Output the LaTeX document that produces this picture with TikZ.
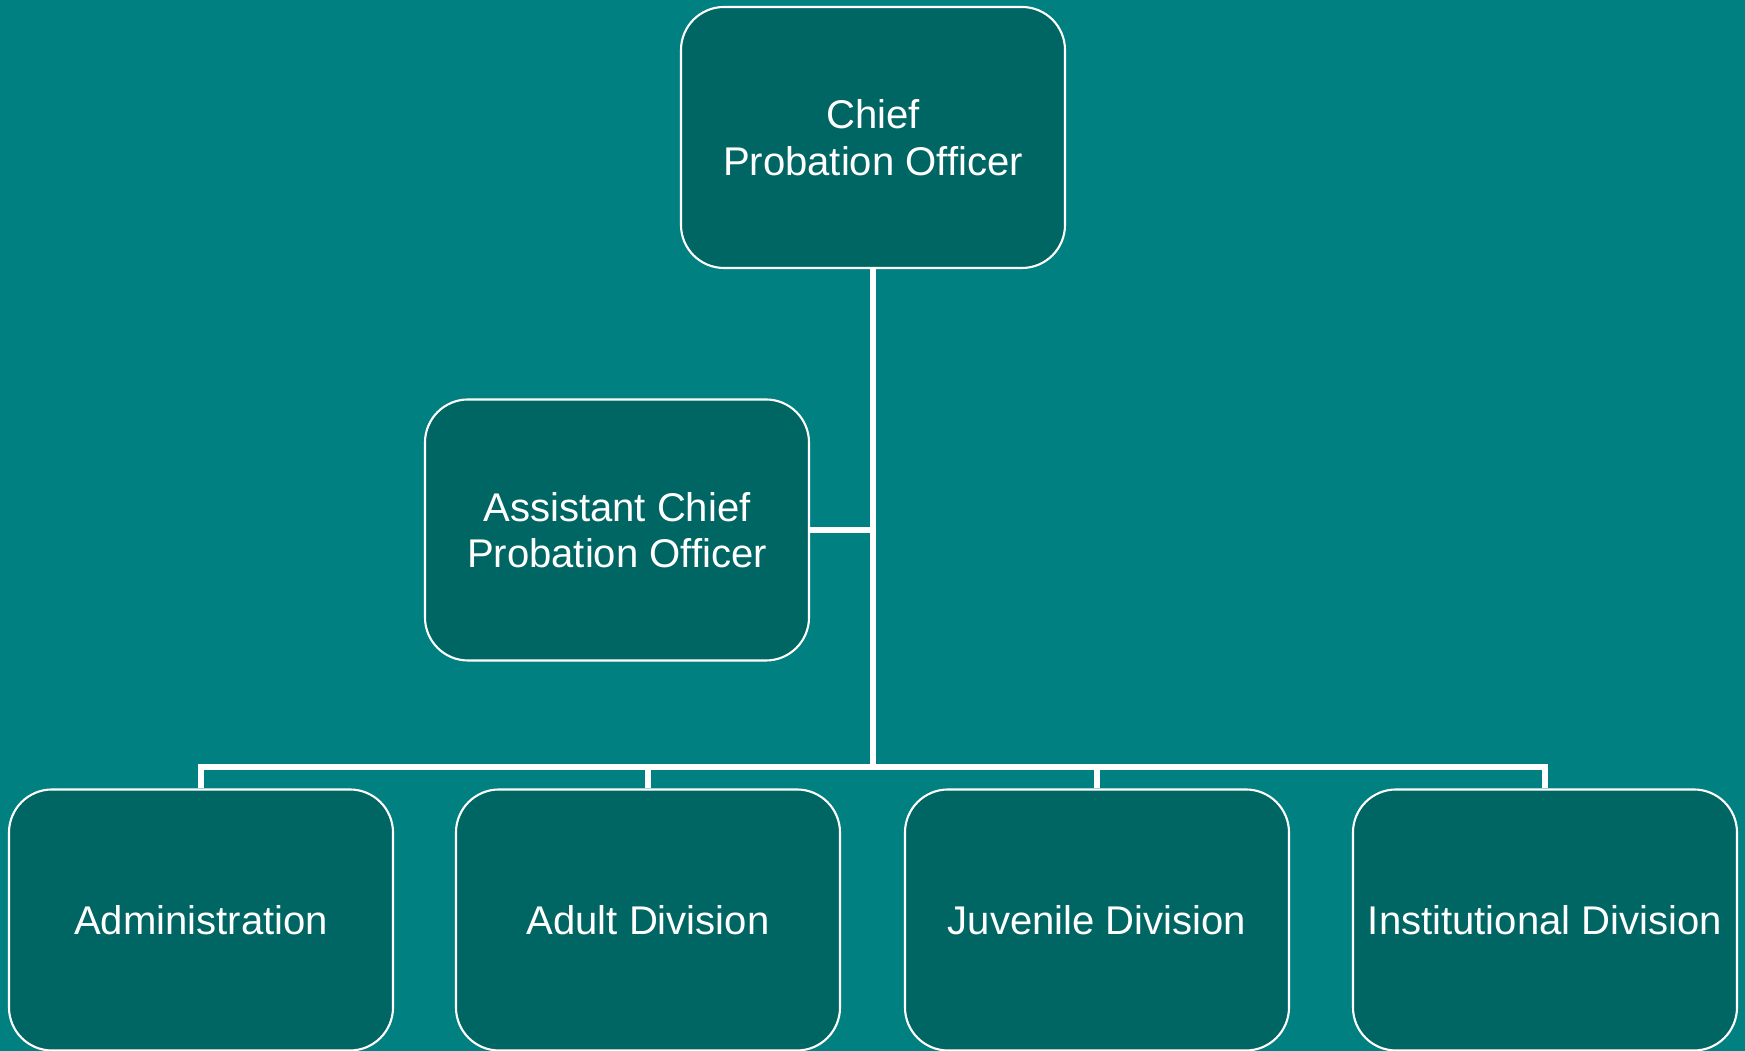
\documentclass[tikz,border=0pt]{standalone}
\usepackage{fontspec}
\setmainfont{Liberation Sans}
\usetikzlibrary{positioning, calc}
\definecolor{SlideTeal}{RGB}{0, 128, 128}
\definecolor{BoxTeal}{RGB}{0, 102, 100}

\tikzset{
    unitbox/.style={draw=white, line width=0.6pt, fill=BoxTeal, rounded corners=0.43cm,
        minimum width=3.84cm, minimum height=2.61cm, align=center, text=white,
        font=\fontsize{11.4}{13.2}\selectfont, inner sep=0pt},
    orgline/.style={draw=white, line width=1.7pt}
}

\begin{document}
\begin{tikzpicture}

        % --- Slide background ---
        \fill[SlideTeal] (0,0) rectangle (17.45,10.51);
        \useasboundingbox (0,0) rectangle (17.45,10.51);

        % --- Boxes ---
        \node[unitbox] (chief) at (8.73,9.135) {Chief\\Probation Officer};
        \node[unitbox] (asst) at (6.17,5.21) {Assistant Chief\\Probation Officer};

        \node[unitbox] (admin) at (2.01,1.31) {Administration};
        \node[unitbox] (adult) at (6.48,1.31) {Adult Division};
        \node[unitbox] (juv) at (10.97,1.31) {Juvenile Division};
        \node[unitbox] (inst) at (15.45,1.31) {Institutional Division};

        \coordinate (bus) at (0,2.84);

        % --- Connectors ---
        \draw[orgline] (chief.south) -- (chief.south |- bus);
        \draw[orgline] (asst.east) -- (asst.east -| chief.south);
        \draw[orgline] (admin.north) |- (inst.north |- bus) -- (inst.north);
        \draw[orgline] (adult.north) -- (adult.north |- bus);
        \draw[orgline] (juv.north) -- (juv.north |- bus);

    \end{tikzpicture}
\end{document}
